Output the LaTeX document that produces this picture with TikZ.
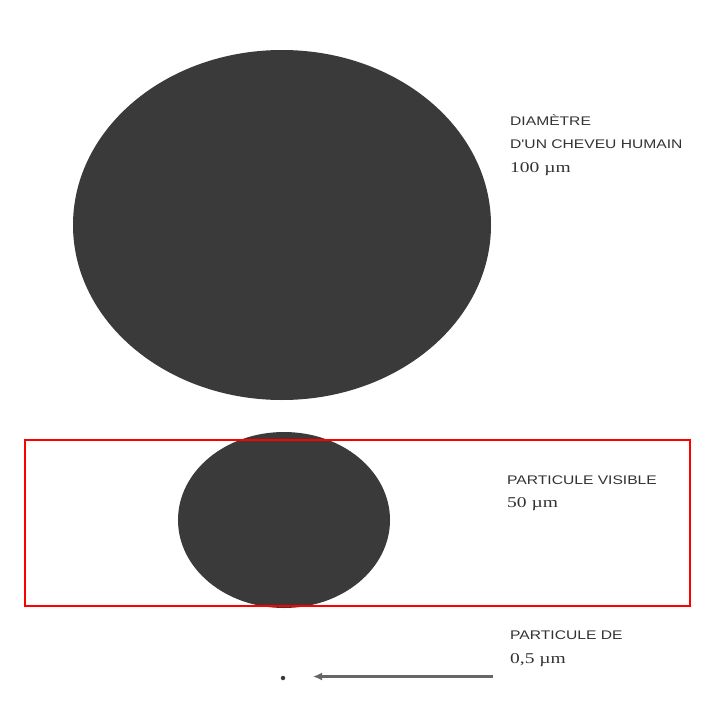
\documentclass[tikz,border=0pt]{standalone}
\usepackage{fontspec}
\usetikzlibrary{arrows.meta}
\newfontfamily\labsans[FakeStretch=1.25]{Liberation Sans}
\newfontfamily\labserif[FakeStretch=1.3]{Liberation Serif}
\definecolor{blob}{HTML}{3A3A3A}
\definecolor{txt}{HTML}{333333}
\tikzset{
  lab/.style={anchor=base west, inner sep=0pt, text=txt, font=\labsans\fontsize{12.5}{14}\selectfont},
  num/.style={anchor=base west, inner sep=0pt, text=txt, font=\labserif\fontsize{15}{16}\selectfont},
  particle/.style={fill=blob, draw=none},
}
\begin{document}
\begin{tikzpicture}[x=1pt,y=-1pt]
\useasboundingbox (0,0) rectangle (708,712);
\fill[white] (0,0) rectangle (708,712);
% big ellipse
\fill[particle] (282,225) ellipse [x radius=209, y radius=175];
% small ellipse
\fill[particle] (284,520) ellipse [x radius=106, y radius=88];
% red frame
\draw[red, line width=1.6pt] (25,440) rectangle (690,606);
% tiny particle
\node[circle, fill=blob, inner sep=0pt, minimum size=4.5pt] (dot) at (283,678) {};
\coordinate (arrstart) at (493,676.5);
\coordinate (arrend) at (313,676.5);
\draw[line width=2.2pt, draw=black!60, -{Latex[length=9pt,width=8pt]}] (arrstart) -- (arrend);
% labels
\node[lab] (t1) at (510,125) {DIAMÈTRE};
\node[lab] (t2) at (510,148) {D'UN CHEVEU HUMAIN};
\node[num] (t3) at (510,172) {100 µm};
\node[lab] (t4) at (507,484) {PARTICULE VISIBLE};
\node[num] (t5) at (507,507) {50 µm};
\node[lab] (t6) at (510,639) {PARTICULE DE};
\node[num] (t7) at (510,663) {0,5 µm};
\end{tikzpicture}
\end{document}
